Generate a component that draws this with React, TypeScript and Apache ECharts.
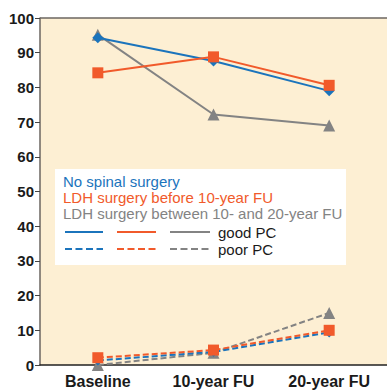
import React, { useEffect, useRef } from "react";
import * as echarts from "echarts";

const categories = ["Baseline", "10-year FU", "20-year FU"];
const noSurgeryGood = [94.3, 87.6, 79];
const beforeGood = [84.2, 88.8, 80.6];
const betweenGood = [95.2, 72.2, 69];
const noSurgeryPoor = [1.3, 3.8, 9.4];
const beforePoor = [2.1, 4.3, 10];
const betweenPoor = [0, 3.5, 15];
const yTicks = { min: 0, max: 100, interval: 10 };

const BLUE = "#1b74bc";
const ORANGE = "#f15a2b";
const GRAY = "#838383";
const FONT = "Liberation Sans, Arial, sans-serif";

export default function App() {
  const ref = useRef<HTMLDivElement>(null);
  useEffect(() => {
    const chart = echarts.init(ref.current!, null, { renderer: "svg" });
    const mk = (name: string, data: number[], color: string, symbol: string, size: number, dashed: boolean, z: number) => ({
      name,
      type: "line",
      data,
      symbol,
      symbolSize: size,
      z,
      lineStyle: { color, width: 2, type: dashed ? [6, 3] : "solid" },
      itemStyle: { color },
    });
    const txt = (s: string, x: number, y: number, fill: string) => ({
      type: "text",
      x,
      y,
      style: { text: s, fill, font: `15px ${FONT}`, textVerticalAlign: "middle" },
      z: 21,
    });
    const seg = (x1: number, x2: number, y: number, stroke: string, dashed: boolean) => ({
      type: "line",
      shape: { x1, y1: y, x2, y2: y },
      style: { stroke, lineWidth: 2, lineDash: dashed ? [7, 3.5] : null },
      z: 21,
    });
    chart.setOption({
      animation: false,
      grid: { left: 40, right: 0, top: 18, bottom: 25, backgroundColor: "#fdefd3", show: true, borderWidth: 0 },
      xAxis: {
        type: "category",
        data: categories,
        axisLine: { lineStyle: { color: "#222", width: 1.5 } },
        axisTick: { show: false },
        axisLabel: { color: "#1a1a1a", fontSize: 16, fontWeight: "bold", fontFamily: FONT, margin: 8 },
      },
      yAxis: {
        type: "value",
        min: yTicks.min,
        max: yTicks.max,
        interval: yTicks.interval,
        axisLine: { show: true, lineStyle: { color: "#6b6660", width: 1.5 } },
        axisTick: { show: true, length: 5, lineStyle: { color: "#444" } },
        splitLine: { show: false },
        axisLabel: { color: "#1a1a1a", fontSize: 15, fontWeight: "bold", fontFamily: FONT, margin: 6 },
      },
      series: [
        mk("gray good", betweenGood, GRAY, "triangle", 12, false, 2),
        mk("blue good", noSurgeryGood, BLUE, "diamond", 11, false, 3),
        mk("orange good", beforeGood, ORANGE, "rect", 11, false, 4),
        mk("gray poor", betweenPoor, GRAY, "triangle", 12, true, 2),
        mk("blue poor", noSurgeryPoor, BLUE, "diamond", 10, true, 3),
        mk("orange poor", beforePoor, ORANGE, "rect", 11, true, 4),
      ],
      graphic: [
        { type: "line", shape: { x1: 40, y1: 18, x2: 387, y2: 18 }, style: { stroke: "#6b6660", lineWidth: 1.5 }, z: 10 },
        { type: "rect", shape: { x: 55, y: 169, width: 291, height: 96 }, style: { fill: "#ffffff" }, z: 20 },
        txt("No spinal surgery", 63, 181, BLUE),
        txt("LDH surgery before 10-year FU", 63, 197, ORANGE),
        txt("LDH surgery between 10- and 20-year FU", 63, 213, GRAY),
        seg(65, 103, 232, BLUE, false),
        seg(117, 156, 232, ORANGE, false),
        seg(170, 210, 232, GRAY, false),
        seg(65, 103, 249, BLUE, true),
        seg(117, 156, 249, ORANGE, true),
        seg(170, 210, 249, GRAY, true),
        txt("good PC", 218, 232, "#1a1a1a"),
        txt("poor PC", 218, 249, "#1a1a1a"),
      ],
    });
    return () => chart.dispose();
  }, []);
  return <div ref={ref} style={{ width: 387, height: 390, position: "absolute", left: 0, top: 0 }} />;
}
